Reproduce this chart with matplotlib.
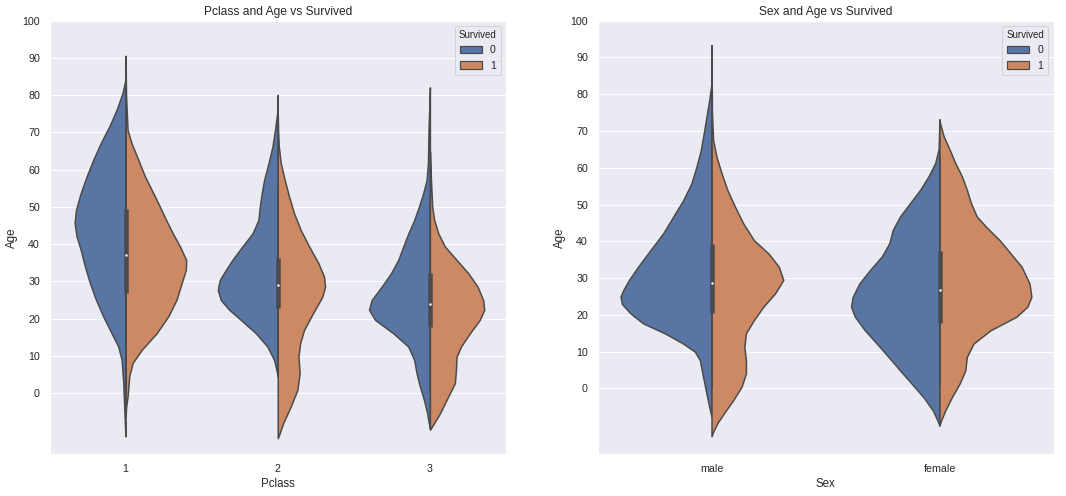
import matplotlib
matplotlib.use("Agg")
import matplotlib.pyplot as plt
from matplotlib.patches import Patch
import seaborn as sns
import numpy as np

sns.set_theme(style="darkgrid")
plt.rcParams['font.family'] = ['Liberation Sans', 'DejaVu Sans']

# colours (seaborn deep, desaturated as violinplot does)
col_dead = "#5975a4"
col_surv = "#cc8963"
gray = "#4a4a4a"

# ---- Pclass: half-violin widths (x units) at given ages ----
pclass_cats = ["1", "2", "3"]

c1_dead_age = [-11.6, -10.7, -3.6, 2.7, 9.0, 12.5, 16.1, 20.6, 25.1, 29.5, 34.0, 38.5, 42.1, 45.7,
               49.2, 53.7, 58.2, 62.7, 67.1, 71.6, 76.1, 80.6, 84.3]
c1_dead_w = [0, 0.002, 0.009, 0.015, 0.026, 0.048, 0.092, 0.147, 0.195, 0.234, 0.267, 0.295, 0.322, 0.335,
             0.326, 0.295, 0.256, 0.212, 0.164, 0.107, 0.059, 0.020, 0]
c1_surv_age = [-6.3, -3.6, -0.9, 4.5, 8.1, 11.6, 16.1, 20.6, 25.1, 29.5, 33.1, 35.8, 39.4, 43.0,
               46.6, 50.1, 53.7, 58.2, 62.7, 67.1, 70.7, 80, 90.6]
c1_surv_w = [0, 0.004, 0.013, 0.024, 0.046, 0.105, 0.204, 0.28, 0.335, 0.368, 0.396, 0.398, 0.357, 0.309,
             0.265, 0.225, 0.182, 0.127, 0.083, 0.039, 0.013, 0.003, 0]

c2_dead_age = [4.5, 6.3, 8.9, 12.5, 16.1, 19.7, 22.4, 25.0, 27.7, 30.4, 33.1, 35.8, 39.4, 42.9,
               46.5, 50.1, 53.7, 57.2, 61.7, 66.2, 70.7, 75.1, 80.1]
c2_dead_w = [0, 0.009, 0.024, 0.068, 0.144, 0.243, 0.319, 0.374, 0.394, 0.381, 0.341, 0.298, 0.232, 0.166,
             0.127, 0.118, 0.105, 0.090, 0.061, 0.035, 0.018, 0.004, 0]
c2_surv_age = [-12.1, -10.7, -8.1, -3.6, 0.9, 5.4, 9.8, 13.4, 17.0, 21.5, 25.9, 28.6, 31.3, 34.9,
               39.4, 43.8, 48.3, 52.8, 57.2, 61.7, 66.2, 70.7, 75]
c2_surv_w = [0, 0.013, 0.035, 0.085, 0.129, 0.144, 0.136, 0.147, 0.173, 0.232, 0.293, 0.311, 0.304, 0.267,
             0.206, 0.151, 0.107, 0.074, 0.046, 0.020, 0.007, 0.002, 0]

c3_dead_age = [-9.4, -8.1, -5.4, -1.8, 1.8, 5.4, 8.9, 12.5, 16.1, 19.7, 22.4, 25.0, 28.6, 32.2,
               35.8, 39.4, 42.9, 46.5, 50.1, 53.7, 57.2, 61.7, 70.7, 82.1]
c3_dead_w = [0, 0.007, 0.018, 0.039, 0.066, 0.088, 0.103, 0.142, 0.241, 0.361, 0.40, 0.383, 0.317, 0.256,
             0.208, 0.175, 0.142, 0.103, 0.072, 0.044, 0.022, 0.013, 0.009, 0]
c3_surv_age = [-9.8, -9.4, -8.1, -5.4, -0.9, 2.7, 6.3, 9.8, 12.5, 16.1, 19.7, 22.4, 25.0, 28.6,
               32.2, 35.8, 39.4, 42.9, 46.5, 50.1, 57.2, 65]
c3_surv_w = [0, 0.007, 0.026, 0.066, 0.12, 0.164, 0.171, 0.175, 0.204, 0.263, 0.328, 0.357, 0.35, 0.313,
             0.252, 0.175, 0.098, 0.055, 0.028, 0.015, 0.007, 0]

pclass_q1 = [26.9, 22.8, 17.7]
pclass_med = [37.0, 29.0, 23.9]
pclass_q3 = [49.4, 36.2, 32.2]
pclass_lo = [0.92, 4.5, 0.42]
pclass_hi = [80, 55, 51]

# ---- Sex ----
sex_cats = ["male", "female"]

male_dead_age = [-7.7, -5, -0.5, 4.1, 7.7, 10, 12.2, 15, 17.7, 20.4, 23, 25, 27, 29.5, 33.1, 37.6,
                 42.2, 46.7, 51.2, 55.8, 60.3, 64.8, 69.4, 73.9, 78.4, 83]
male_dead_w = [0, 0.010, 0.025, 0.040, 0.051, 0.073, 0.124, 0.205, 0.30, 0.355, 0.393, 0.399, 0.385, 0.362,
               0.322, 0.268, 0.212, 0.168, 0.124, 0.088, 0.066, 0.047, 0.034, 0.022, 0.010, 0]
male_surv_age = [-13, -11.8, -9.5, -6.8, -3.2, 0.5, 4.1, 7.7, 11.3, 15, 18.6, 22.2, 25.8, 29.5, 33.1,
                 36.7, 40.3, 44.9, 49.4, 53.9, 58.5, 63, 67.5, 75, 93.4]
male_surv_w = [0, 0.007, 0.025, 0.054, 0.095, 0.132, 0.151, 0.151, 0.144, 0.151, 0.186, 0.227, 0.278, 0.315,
               0.295, 0.25, 0.186, 0.139, 0.103, 0.07, 0.044, 0.022, 0.007, 0.002, 0]

female_dead_age = [-10.1, -8.7, -6, -2.4, 1.3, 4.9, 8.6, 12.2, 15.8, 19.5, 22.2, 24.9, 28.6, 32.2,
                   35.9, 39.5, 43.1, 46.8, 50.4, 54, 57.7, 61.3, 65, 73.2]
female_dead_w = [0, 0.009, 0.029, 0.07, 0.122, 0.173, 0.224, 0.275, 0.327, 0.371, 0.388, 0.381, 0.351, 0.305,
                 0.253, 0.22, 0.205, 0.173, 0.129, 0.085, 0.048, 0.019, 0.004, 0]
female_surv_age = [-10, -8.7, -6, -2.4, 1.3, 4.9, 8.6, 12.2, 15.8, 19.5, 22.2, 24.9, 28.5, 33.1,
                   40.3, 43.9, 46.8, 50.4, 54, 57.7, 61.3, 65, 68.6, 72.7]
female_surv_w = [0, 0.007, 0.025, 0.054, 0.088, 0.113, 0.12, 0.149, 0.223, 0.337, 0.385, 0.403, 0.395, 0.36,
                 0.264, 0.205, 0.163, 0.138, 0.12, 0.098, 0.069, 0.044, 0.018, 0]

sex_q1 = [20.6, 17.7]
sex_med = [28.8, 26.9]
sex_q3 = [39.3, 37.5]
sex_lo = [0.42, 0.8]
sex_hi = [66, 63]


def split_violins(ax, cats, halves, q1, med, q3, lo, hi):
    for i in range(len(cats)):
        (a0, w0), (a1, w1) = halves[i]
        a0 = np.array(a0); w0 = np.array(w0)
        a1 = np.array(a1); w1 = np.array(w1)
        ax.fill_betweenx(a0, i - w0, i, facecolor=col_dead, edgecolor=gray,
                         linewidth=1.5, joinstyle="round", zorder=1)
        ax.fill_betweenx(a1, i, i + w1, facecolor=col_surv, edgecolor=gray,
                         linewidth=1.5, joinstyle="round", zorder=1)
        # inner box
        ax.plot([i, i], [lo[i], hi[i]], color=gray, linewidth=1.5, zorder=2)
        ax.plot([i, i], [q1[i], q3[i]], color=gray, linewidth=4.5, solid_capstyle="butt", zorder=2)
        ax.scatter(i, med[i], s=9, color="white", edgecolor=gray, linewidth=0.5, zorder=3)
    ax.set_xticks(range(len(cats)))
    ax.set_xticklabels(cats)
    ax.set_xlim(-0.5, len(cats) - 0.5)
    ax.xaxis.grid(False)
    ax.set_yticks(range(0, 110, 10))
    handles = [Patch(facecolor=col_dead, edgecolor=gray, linewidth=1.2, label="0"),
               Patch(facecolor=col_surv, edgecolor=gray, linewidth=1.2, label="1")]
    ax.legend(handles=handles, title="Survived", loc="upper right",
              fontsize=10.5, title_fontsize=9.8, handlelength=2.1)
    ax.tick_params(labelsize=10.6)


fig = plt.figure(figsize=(1066 / 72, 496 / 72), dpi=72)
ax1 = fig.add_axes([49.5 / 1066, 0.0841, 456.5 / 1066, 0.8742])
ax2 = fig.add_axes([597.5 / 1066, 0.0841, 456.0 / 1066, 0.8742])

split_violins(ax1, pclass_cats,
              [((c1_dead_age, c1_dead_w), (c1_surv_age, c1_surv_w)),
               ((c2_dead_age, c2_dead_w), (c2_surv_age, c2_surv_w)),
               ((c3_dead_age, c3_dead_w), (c3_surv_age, c3_surv_w))],
              pclass_q1, pclass_med, pclass_q3, pclass_lo, pclass_hi)
ax1.set_ylim(-16.4, 100)
ax1.set_title("Pclass and Age vs Survived", fontsize=12)
ax1.set_xlabel("Pclass", fontsize=11.5)
ax1.set_ylabel("Age", fontsize=11.5)

split_violins(ax2, sex_cats,
              [((male_dead_age, male_dead_w), (male_surv_age, male_surv_w)),
               ((female_dead_age, female_dead_w), (female_surv_age, female_surv_w))],
              sex_q1, sex_med, sex_q3, sex_lo, sex_hi)
ax2.set_ylim(-17.9, 100)
ax2.set_title("Sex and Age vs Survived", fontsize=12)
ax2.set_xlabel("Sex", fontsize=11.5)
ax2.set_ylabel("Age", fontsize=11.5)

fig.savefig("out.png", dpi=72)
